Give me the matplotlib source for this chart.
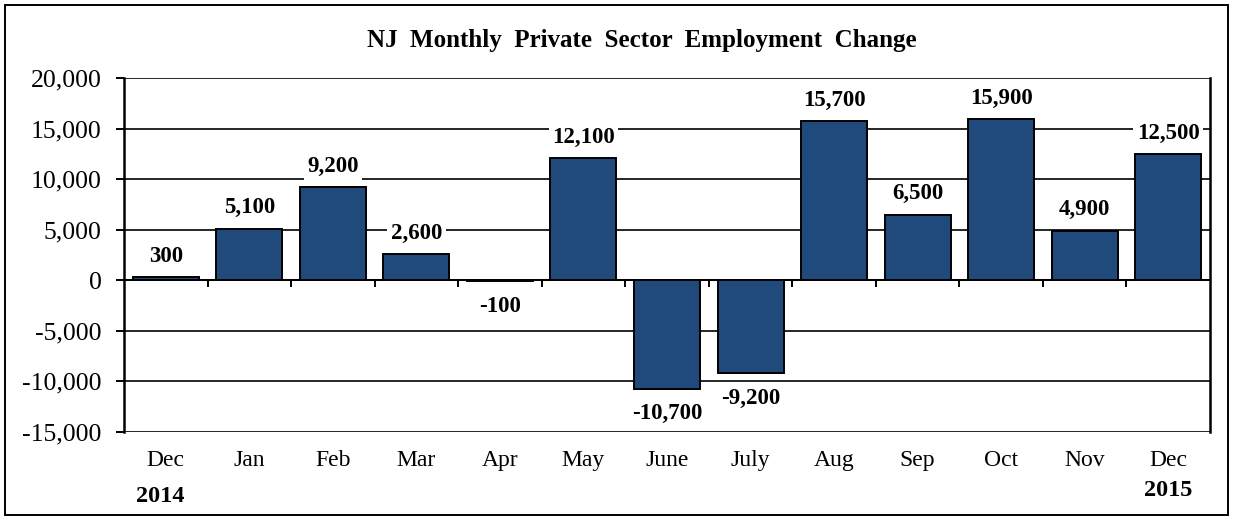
import matplotlib.pyplot as plt
from matplotlib.patches import Rectangle
from matplotlib.ticker import FuncFormatter, FixedLocator

# data
months = ["Dec", "Jan", "Feb", "Mar", "Apr", "May", "June", "July",
          "Aug", "Sep", "Oct", "Nov", "Dec"]
changes = [300, 5100, 9200, 2600, -100, 12100, -10700, -9200,
           15700, 6500, 15900, 4900, 12500]
y_ticks = [-15000, -10000, -5000, 0, 5000, 10000, 15000, 20000]

plt.rcParams['font.family'] = ['Liberation Serif', 'DejaVu Serif']

fig = plt.figure(figsize=(12.33, 5.2), dpi=100)
ax = fig.add_axes([124 / 1233, 1 - 432 / 520, (1210 - 124) / 1233, (432 - 78) / 520])

x = list(range(len(months)))
ax.bar(x, changes, width=0.79, color='#214A7C', edgecolor='black',
       linewidth=1.4, zorder=3)

ax.set_xlim(-0.5, len(months) - 0.5)
ax.set_ylim(y_ticks[0], y_ticks[-1])
ax.set_yticks(y_ticks)
ax.yaxis.set_major_formatter(FuncFormatter(lambda v, p: f"{int(v):,}"))
ax.tick_params(axis='y', labelsize=18.5, length=6, width=1.4, pad=10)
ax.yaxis.grid(True, color='black', linewidth=1.2, zorder=1)

# x axis crosses at zero, ticks between categories
ax.spines['bottom'].set_position(('data', 0))
ax.spines['bottom'].set_linewidth(1.4)
ax.spines['top'].set_visible(False)
ax.spines['left'].set_linewidth(1.8)
ax.spines['right'].set_linewidth(1.8)
ax.set_xticks([])
ax.xaxis.set_minor_locator(FixedLocator([i + 0.5 for i in x[:-1]]))
ax.tick_params(axis='x', which='minor', direction='out', length=5, width=1.4)

for i, m in enumerate(months):
    ax.text(i, -0.08, m, transform=ax.get_xaxis_transform(), ha='center',
            va='center', fontsize=17)

for i, v in enumerate(changes):
    off = 15 if v > 0 else -18
    ax.annotate(f"{v:,}", (i, v), xytext=(0, off), textcoords='offset points',
                ha='center', va='center', fontsize=16.5, fontweight='bold',
                bbox=dict(boxstyle='square,pad=0.15', fc='white', ec='none'),
                zorder=4)

fig.text(642 / 1233, 1 - 41 / 520, "NJ  Monthly  Private  Sector  Employment  Change",
         ha='center', va='center', fontsize=18, fontweight='bold')
fig.text(160 / 1233, 1 - 496 / 520, "2014", ha='center', va='center',
         fontsize=17.5, fontweight='bold')
fig.text(1168 / 1233, 1 - 491 / 520, "2015", ha='center', va='center',
         fontsize=17.5, fontweight='bold')

fig.patches.append(Rectangle((5 / 1233, 5 / 520), 1223 / 1233, 510 / 520,
                             transform=fig.transFigure, fill=False,
                             edgecolor='black', linewidth=1.4))

fig.savefig("out.png", dpi=100)
